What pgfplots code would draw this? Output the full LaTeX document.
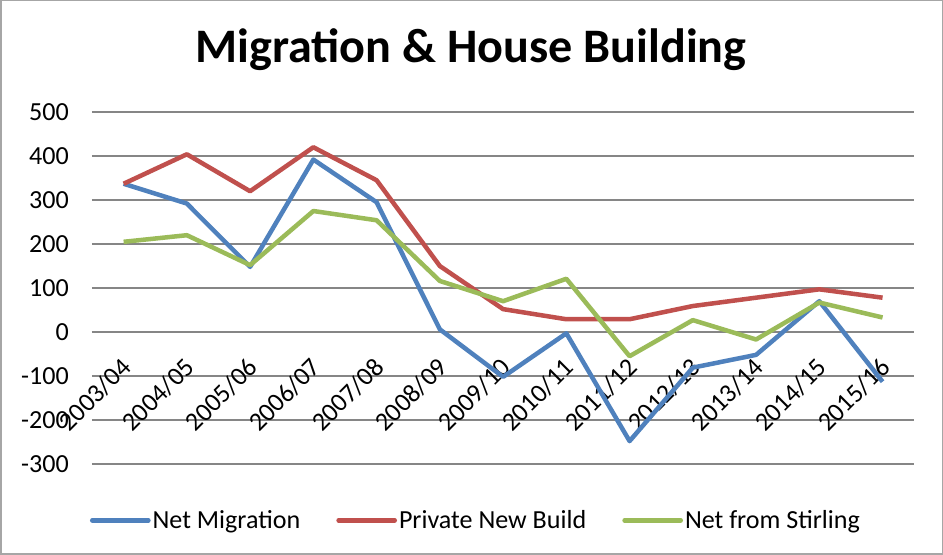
\documentclass[border=0pt]{standalone}
\usepackage{pgfplots}
\pgfplotsset{compat=1.18}
\usepackage{fontspec}
\setmainfont{Carlito}

\definecolor{xlblue}{HTML}{4F81BD}
\definecolor{xlred}{HTML}{C0504D}
\definecolor{xlgreen}{HTML}{9BBB59}
\definecolor{gridgray}{HTML}{868686}

\begin{document}
\begin{tikzpicture}
\begin{axis}[
    scale only axis,
    width=820pt, height=351pt,
    xmin=-0.5, xmax=12.5,
    ymin=-300, ymax=500,
    axis x line*=middle,
    axis y line*=left,
    x axis line style={draw=gridgray, line width=1.2pt},
    y axis line style={draw=none},
    major tick length=0pt,
    xtick={0,...,12},
    xticklabels={2003/04,2004/05,2005/06,2006/07,2007/08,2008/09,2009/10,2010/11,2011/12,2012/13,2013/14,2014/15,2015/16},
    ytick={-300,-200,...,500},
    yticklabels={-300,-200,-100,0,100,200,300,400,500},
    xticklabel style={yshift=-31pt, xshift=3pt, rotate=45, anchor=east, inner sep=0pt, font=\fontsize{26}{30}\selectfont},
    yticklabel style={anchor=east, inner sep=0pt, xshift=-23pt, font=\fontsize{26}{30}\selectfont},
    ymajorgrids,
    grid style={draw=gridgray, line width=1.2pt},
    title={\bfseries Migration \& House Building},
    title style={at={(0.461,1)}, anchor=center, yshift=56pt, font=\fontsize{48}{54}\selectfont},
    legend columns=3,
    legend style={draw=none, fill=none, at={(0.467,-0.16)}, anchor=center,
        font=\fontsize{26}{30}\selectfont,
        /tikz/every even column/.append style={column sep=34pt}},
    legend image code/.code={\draw[#1, line width=4.5pt, line cap=round] (0pt,0pt) -- (56pt,0pt);},
    every axis plot/.append style={line width=4.5pt, line join=round},
    clip=false,
]
\addplot[color=xlblue] coordinates {
(0,337) (1,292) (2,148) (3,392) (4,295) (5,6) (6,-102) (7,-3) (8,-248) (9,-81) (10,-52) (11,70) (12,-113)
};
\addlegendentry{Net Migration}
\addplot[color=xlred] coordinates {
(0,337) (1,404) (2,320) (3,420) (4,345) (5,150) (6,52) (7,29) (8,29) (9,59) (10,78) (11,97) (12,78)
};
\addlegendentry{Private New Build}
\addplot[color=xlgreen] coordinates {
(0,205) (1,220) (2,152) (3,275) (4,254) (5,116) (6,70) (7,121) (8,-55) (9,27) (10,-17) (11,67) (12,33)
};
\addlegendentry{Net from Stirling}
\end{axis}
\draw[gray!70, line width=1.5pt] ([shift={(-91pt,-90pt)}]current axis.south west) rectangle ([shift={(28pt,111pt)}]current axis.north east);
\end{tikzpicture}
\end{document}
